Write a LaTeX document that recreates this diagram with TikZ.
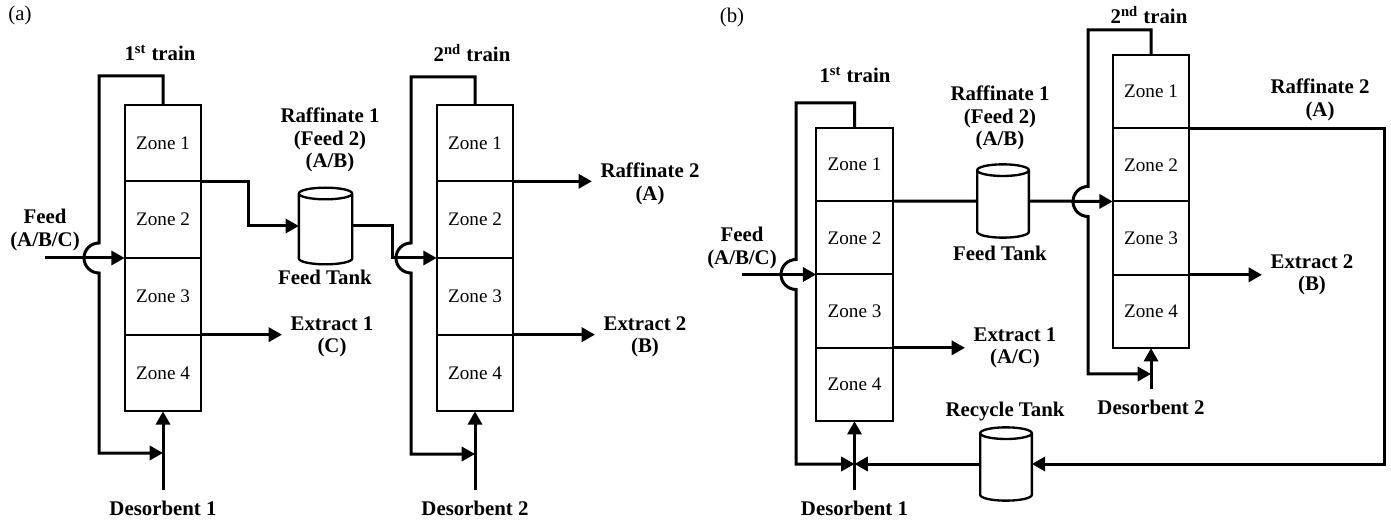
\documentclass[tikz,border=0pt]{standalone}
\usepackage{fontspec}
\setmainfont{Liberation Serif}
\usetikzlibrary{arrows.meta,positioning,calc}
\tikzset{
  zone/.style={draw, line width=1.2pt, minimum width=46pt, minimum height=#1, inner sep=0pt, outer sep=0pt, font=\fontsize{11.5}{13}\selectfont},
  zone/.default=46pt,
  tank/.style={minimum width=31pt, minimum height=46pt, inner sep=0pt, outer sep=0pt},
  tk/.style={line width=1.4pt},
  pipe/.style={line width=1.8pt},
  flow/.style={pipe, -{Triangle[length=8pt,width=8.5pt]}},
  lbl/.style={font=\fontsize{12.5}{13.5}\selectfont\bfseries, align=center, inner sep=1pt},
  plbl/.style={font=\fontsize{12.5}{14}\selectfont}
}
\begin{document}
\begin{tikzpicture}[x=0.6pt, y=-0.6pt]
\useasboundingbox (0,0) rectangle (1391,531);
% (a)
\node[plbl] (pa) at (20,15) {(a)};
\node[lbl] (a1n) at (160,53) {1\textsuperscript{st} train};
\node[lbl] (a2n) at (472,53) {2\textsuperscript{nd} train};
\node[zone] (a11) at (163,143) {Zone 1};
\node[zone, below=0pt of a11] (a12) {Zone 2};
\node[zone, below=0pt of a12] (a13) {Zone 3};
\node[zone, below=0pt of a13] (a14) {Zone 4};
\node[zone] (a21) at (475,143) {Zone 1};
\node[zone, below=0pt of a21] (a22) {Zone 2};
\node[zone, below=0pt of a22] (a23) {Zone 3};
\node[zone, below=0pt of a23] (a24) {Zone 4};
\node[tank, minimum width=32pt] (ta) at (325.5,226) {};
\node[lbl] (a1f) at (45,230) {Feed\\(A/B/C)};
\node[lbl] (a1r) at (330,140) {Raffinate 1\\(Feed 2)\\(A/B)};
\node[lbl] (tal) at (325,277) {Feed Tank};
\node[lbl] (a1e) at (332,337) {Extract 1\\(C)};
\node[lbl] (a2r) at (650,184) {Raffinate 2\\(A)};
\node[lbl] (a2e) at (645,337) {Extract 2\\(B)};
\node[lbl] (a1d) at (163,508) {Desorbent 1};
\node[lbl] (a2d) at (475,508) {Desorbent 2};
\coordinate (a1t) at (99,76);
\coordinate (a1b) at (99,453);
\coordinate (a1x) at (a1t |- a12.south);
\coordinate (a2t) at (411,77);
\coordinate (a2b) at (411,454);
\coordinate (a2x) at (a2t |- a22.south);
\draw[flow] (a11.north) |- (a1t) -- ([yshift=9pt]a1x) arc[start angle=90, end angle=270, radius=9pt] -- (a1b) -- (a1b -| a14.south);
\draw[flow] (a21.north) |- (a2t) -- ([yshift=9pt]a2x) arc[start angle=90, end angle=270, radius=9pt] -- (a2b) -- (a2b -| a24.south);
\draw[flow] (a1f.south |- a12.south) -- (a12.south west);
\draw[flow] (a11.south east) -- ++(47,0) |- (ta.west);
\draw[flow] (ta.east) -- ++(40,0) |- (a22.south west);
\draw[flow] (a13.south east) -- ([xshift=-4pt]a13.south east -| a1e.west);
\draw[flow] (a21.south east) -- ([xshift=-4pt]a21.south east -| a2r.west);
\draw[flow] (a23.south east) -- ([xshift=-4pt]a23.south east -| a2e.west);
\draw[flow] ([yshift=5pt]a1d.north) -- (a14.south);
\draw[flow] ([yshift=5pt]a2d.north) -- (a24.south);
% (b)
\node[plbl] (pb) at (732,17) {(b)};
\node[lbl] (b1n) at (855,75) {1\textsuperscript{st} train};
\node[lbl] (b2n) at (1149,15) {2\textsuperscript{nd} train};
\node[zone=44pt] (b11) at (854.5,164.5) {Zone 1};
\node[zone=44pt, below=0pt of b11] (b12) {Zone 2};
\node[zone=44pt, below=0pt of b12] (b13) {Zone 3};
\node[zone=44pt, below=0pt of b13] (b14) {Zone 4};
\node[zone=44pt] (b21) at (1151,91.5) {Zone 1};
\node[zone=44pt, below=0pt of b21] (b22) {Zone 2};
\node[zone=44pt, below=0pt of b22] (b23) {Zone 3};
\node[zone=44pt, below=0pt of b23] (b24) {Zone 4};
\node[tank, minimum height=44pt] (tb) at (1003,201) {};
\node[tank, minimum height=44pt] (rt) at (1006,464) {};
\node[lbl] (b1f) at (742,248) {Feed\\(A/B/C)};
\node[lbl] (b1r) at (1000,118) {Raffinate 1\\(Feed 2)\\(A/B)};
\node[lbl] (tbl) at (1000,253) {Feed Tank};
\node[lbl] (b1e) at (1015,348) {Extract 1\\(A/C)};
\node[lbl] (rtl) at (1005,412) {Recycle Tank};
\node[lbl] (b2r) at (1320,100) {Raffinate 2\\(A)};
\node[lbl] (b2e) at (1312,275) {Extract 2\\(B)};
\node[lbl] (b1d) at (854.5,508) {Desorbent 1};
\node[lbl] (b2d) at (1151,407) {Desorbent 2};
\coordinate (b1t) at (796,103);
\coordinate (b1x) at (b1t |- b12.south);
\coordinate (b2t) at (1088,30);
\coordinate (b2b) at (1088,374);
\coordinate (b2x) at (b2t |- b22.south);
\coordinate (rc) at (1384,0);
\draw[flow] (b11.north) |- (b1t) -- ([yshift=9pt]b1x) arc[start angle=90, end angle=270, radius=9pt] -- (b1t |- rt) -- (rt -| b14.south);
\draw[flow] (b21.north) |- (b2t) -- ([yshift=9pt]b2x) arc[start angle=90, end angle=270, radius=9pt] -- (b2b) -- (b2b -| b24.south);
\draw[flow] (b1f.south |- b12.south) -- (b12.south west);
\draw[pipe] (b11.south east) -- (tb.west);
\draw[flow] (tb.east) -- (b22.south west);
\draw[flow] (b13.south east) -- ([xshift=-4pt]b13.south east -| b1e.west);
\draw[flow] (b23.south east) -- ([xshift=-4pt]b23.south east -| b2e.west);
\draw[flow] (b21.south east) -| (rc |- rt) -- (rt.east);
\draw[flow] (rt.west) -- (rt.west -| b14.south);
\draw[flow] ([yshift=5pt]b1d.north) -- (b14.south);
\draw[flow] ([yshift=5pt]b2d.north) -- (b24.south);
% tanks
\foreach \t/\r in {ta/16pt, tb/15.5pt, rt/15.5pt}
  \draw[tk, fill=white] ([yshift=-3.5pt]\t.north west) -- ([yshift=3.5pt]\t.south west) arc[start angle=180, end angle=360, x radius=\r, y radius=3.5pt] -- ([yshift=-3.5pt]\t.north east) arc[start angle=0, end angle=360, x radius=\r, y radius=3.5pt];
\end{tikzpicture}
\end{document}
